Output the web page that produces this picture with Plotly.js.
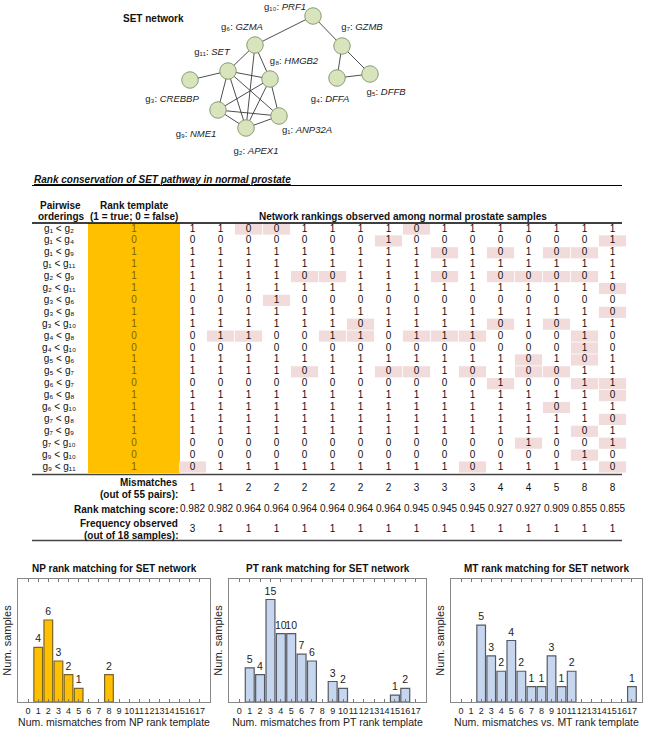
<!DOCTYPE html>
<html>
<head>
<meta charset="utf-8">
<script src="https://cdn.plot.ly/plotly-3.0.1.min.js"></script>
<style>html,body{margin:0;padding:0;background:#fff;}#chart{width:647px;height:732px;}</style>
</head>
<body>
<div id="chart"></div>
<script>
// ---------------- DATA ----------------
// Network
const geneIds   = [1, 2, 3, 4, 5, 6, 7, 8, 9, 10, 11];
const geneNames = ['ANP32A','APEX1','CREBBP','DFFA','DFFB','GZMA','GZMB','HMGB2','NME1','PRF1','SET'];
const edgeFrom  = [10, 10, 7, 7, 4, 6, 6, 6, 11, 11, 11, 11, 11, 8, 8, 8, 9, 9, 2];
const edgeTo    = [ 6,  7, 4, 5, 5, 11, 8, 2, 3, 8, 9, 2, 1, 9, 2, 1, 1, 2, 1];

// Table
const pairFirst    = [1,1,1,1,2,2,3,3,3,4,4,5,5,6,6,6,7,7,7,9,9];
const pairSecond   = [2,4,9,11,9,11,6,8,10,8,10,6,7,7,8,10,8,9,10,10,11];
const rankTemplate = [1,0,1,1,1,1,0,1,1,0,0,1,1,0,1,1,1,1,0,0,1];
const sampleRankings = [
  [1,1,0,0,1,1,1,1,0,1,1,1,1,1,1,1],
  [0,0,0,0,0,0,0,1,0,0,0,0,0,0,0,1],
  [1,1,1,1,1,1,1,1,1,0,1,0,1,0,0,1],
  [1,1,1,1,1,1,1,1,1,1,1,1,1,1,1,1],
  [1,1,1,1,0,0,1,1,1,0,1,0,0,0,0,1],
  [1,1,1,1,1,1,1,1,1,1,1,1,1,1,1,0],
  [0,0,0,1,0,0,0,0,0,0,0,0,0,0,0,0],
  [1,1,1,1,1,1,1,1,1,1,1,1,1,1,1,0],
  [1,1,1,1,1,1,0,1,1,1,1,0,1,0,1,1],
  [0,1,1,0,0,1,1,0,1,1,1,0,0,0,1,0],
  [0,0,0,0,0,0,0,0,0,0,0,0,0,0,1,0],
  [1,1,1,1,1,1,1,1,1,1,1,1,0,1,0,1],
  [1,1,1,1,0,1,1,0,0,1,0,1,0,0,1,1],
  [0,0,0,0,0,0,0,0,0,0,0,1,0,0,1,1],
  [1,1,1,1,1,1,1,1,1,1,1,1,1,1,1,0],
  [1,1,1,1,1,1,1,1,1,1,1,1,1,0,1,1],
  [1,1,1,1,1,1,1,1,1,1,1,1,1,1,1,0],
  [1,1,1,1,1,1,1,1,1,1,1,1,1,1,0,1],
  [0,0,0,0,0,0,0,0,0,0,0,0,1,0,0,1],
  [0,0,0,0,0,0,0,0,0,0,0,0,0,0,1,0],
  [0,1,1,1,1,1,1,1,1,1,0,1,1,1,1,0]
];
const mismatches        = [1,1,2,2,2,2,2,2,3,3,3,4,4,5,8,8];
const rankMatchingScore = [0.982,0.982,0.964,0.964,0.964,0.964,0.964,0.964,0.945,0.945,0.945,0.927,0.927,0.909,0.855,0.855];
const frequencyObserved = [3,1,1,1,1,1,1,1,1,1,1,1,1,1,1,1];

// Histograms
const mismatchBins = [0,1,2,3,4,5,6,7,8,9,10,11,12,13,14,15,16,17];
const npCounts = [0,4,6,3,2,1,0,0,2,0,0,0,0,0,0,0,0,0];
const ptCounts = [0,5,4,15,10,10,7,6,0,3,2,0,0,0,0,1,2,0];
const mtCounts = [0,0,5,3,2,4,2,1,1,3,1,2,0,0,0,0,0,1];

// ---------------- LAYOUT CONSTANTS ----------------
const W = 647, H = 732;
const FONT = 'Arial, "Liberation Sans", sans-serif';
const nodePos  = {1:[279,116],2:[246,128],3:[190,80],4:[337,78],5:[370,74],6:[255,45],7:[342,46],8:[270,79],9:[218,110],10:[313,16],11:[228,71]};
const labelPos = {1:[307,131],2:[256,152],3:[172,100],4:[330,100],5:[386,93],6:[242,28],7:[362,28],8:[294,62],9:[196,135],10:[285,8],11:[212,53]};
const colX = j => 192.5 + 28 * j;
const rowY = i => 229 + 11.9 * i;
const templX = 134, pairX = 59;
const yMis = 488, yScore = 509, yFreq = 529;
const SUBS = ['₀','₁','₂','₃','₄','₅','₆','₇','₈','₉'];
const sub = n => String(n).split('').map(d => SUBS[+d]).join('');

const traces = [];
const shapes = [];
const annotations = [];

// ---- network edges ----
const ex = [], ey = [];
edgeFrom.forEach((a, k) => {
  const b = edgeTo[k];
  ex.push(nodePos[a][0], nodePos[b][0], null);
  ey.push(nodePos[a][1], nodePos[b][1], null);
});
traces.push({type:'scatter', mode:'lines', x:ex, y:ey, xaxis:'x', yaxis:'y',
  line:{color:'#3a3a3a', width:0.9}, hoverinfo:'skip', cliponaxis:false});
// ---- network nodes ----
traces.push({type:'scatter', mode:'markers', xaxis:'x', yaxis:'y',
  x: geneIds.map(g => nodePos[g][0]), y: geneIds.map(g => nodePos[g][1]),
  marker:{size:16.5, color:'#d8e4bc', line:{color:'#8c9a78', width:1}}, hoverinfo:'skip', cliponaxis:false});
traces.push({type:'scatter', mode:'text', xaxis:'x', yaxis:'y',
  x: geneIds.map(g => labelPos[g][0]), y: geneIds.map(g => labelPos[g][1]),
  text: geneIds.map((g, k) => 'g' + sub(g) + ': <i>' + geneNames[k] + '</i>'),
  textposition:'middle center', textfont:{family:FONT, size:9.5, color:'#222'}, hoverinfo:'skip', cliponaxis:false});
annotations.push({xref:'x', yref:'y', x:121, y:18, xanchor:'left', yanchor:'middle', showarrow:false,
  text:'<b>SET network</b>', font:{family:FONT, size:10, color:'#111'}});

// ---- table background shapes ----
shapes.push({type:'rect', xref:'x', yref:'y', x0:88, x1:180, y0:223, y1:473, fillcolor:'#FFC000', line:{width:0}, layer:'below'});
sampleRankings.forEach((row, i) => row.forEach((v, j) => {
  if (v !== rankTemplate[i]) {
    shapes.push({type:'rect', xref:'x', yref:'y', x0:colX(j)-13.6, x1:colX(j)+13.6, y0:rowY(i)-5.6, y1:rowY(i)+5.6,
      fillcolor:'#F2DCDB', line:{width:0}, layer:'below'});
  }
}));
const hline = (y, w, c) => shapes.push({type:'line', xref:'x', yref:'y', x0:32, x1:622, y0:y, y1:y, line:{color:c, width:w}});
hline(185.5, 1, '#000');
hline(223, 1.5, '#000');
hline(474.5, 1.5, '#444');
hline(540.5, 1.5, '#444');

// ---- table text ----
const cellX = [], cellY = [], cellT = [];
sampleRankings.forEach((row, i) => row.forEach((v, j) => { cellX.push(colX(j)); cellY.push(rowY(i)); cellT.push(String(v)); }));
traces.push({type:'scatter', mode:'text', xaxis:'x', yaxis:'y', x:cellX, y:cellY, text:cellT,
  textposition:'middle center', textfont:{family:FONT, size:10, color:'#111'}, hoverinfo:'skip', cliponaxis:false});
traces.push({type:'scatter', mode:'text', xaxis:'x', yaxis:'y',
  x: rankTemplate.map(() => templX), y: rankTemplate.map((v, i) => rowY(i)), text: rankTemplate.map(String),
  textposition:'middle center', textfont:{family:FONT, size:10, color:'#7f6000'}, hoverinfo:'skip', cliponaxis:false});
traces.push({type:'scatter', mode:'text', xaxis:'x', yaxis:'y',
  x: pairFirst.map(() => pairX), y: pairFirst.map((v, i) => rowY(i)),
  text: pairFirst.map((a, i) => 'g' + sub(a) + ' &lt; g' + sub(pairSecond[i])),
  textposition:'middle center', textfont:{family:FONT, size:10, color:'#111'}, hoverinfo:'skip', cliponaxis:false});
// summary rows
traces.push({type:'scatter', mode:'text', xaxis:'x', yaxis:'y',
  x: mismatches.map((v, j) => colX(j)), y: mismatches.map(() => yMis), text: mismatches.map(String),
  textposition:'middle center', textfont:{family:FONT, size:10, color:'#111'}, hoverinfo:'skip', cliponaxis:false});
traces.push({type:'scatter', mode:'text', xaxis:'x', yaxis:'y',
  x: rankMatchingScore.map((v, j) => colX(j)), y: rankMatchingScore.map(() => yScore), text: rankMatchingScore.map(v => v.toFixed(3)),
  textposition:'middle center', textfont:{family:FONT, size:10, color:'#111'}, hoverinfo:'skip', cliponaxis:false});
traces.push({type:'scatter', mode:'text', xaxis:'x', yaxis:'y',
  x: frequencyObserved.map((v, j) => colX(j)), y: frequencyObserved.map(() => yFreq), text: frequencyObserved.map(String),
  textposition:'middle center', textfont:{family:FONT, size:10, color:'#111'}, hoverinfo:'skip', cliponaxis:false});

// ---- table headers / labels ----
const ann = (x, y, text, xanchor, extra) => annotations.push(Object.assign({xref:'x', yref:'y', x:x, y:y, xanchor:xanchor || 'center',
  yanchor:'middle', showarrow:false, text:text, font:{family:FONT, size:10, color:'#111'}}, extra || {}));
ann(32, 179, '<b><i><u>Rank conservation of SET pathway in normal prostate</u></i></b>', 'left');
ann(60, 205, '<b>Pairwise</b>');
ann(61, 216.5, '<b>orderings</b>');
ann(134, 205, '<b>Rank template</b>');
ann(134, 216.5, '<b>(1 = true; 0 = false)</b>');
ann(403, 216.5, '<b>Network rankings observed among normal prostate samples</b>');
ann(180, 482, '<b>Mismatches</b>', 'right');
ann(180, 494, '<b>(out of 55 pairs):</b>', 'right');
ann(180, yScore, '<b>Rank matching score:</b>', 'right');
ann(180, 523, '<b>Frequency observed</b>', 'right');
ann(180, 535, '<b>(out of 18 samples):</b>', 'right');

// ---- histograms ----
const panels = [
  {counts:npCounts, ax:'2', dom:[18,210], ymax:9,  fill:'#FFC000', edge:'#7a6528',
   title:'NP rank matching for SET network', xt:'Num. mismatches from NP rank template'},
  {counts:ptCounts, ax:'3', dom:[229,426], ymax:18, fill:'#C6D6EE', edge:'#555a62',
   title:'PT rank matching for SET network', xt:'Num. mismatches from PT rank template'},
  {counts:mtCounts, ax:'4', dom:[451,642], ymax:8,  fill:'#C6D6EE', edge:'#555a62',
   title:'MT rank matching for SET network', xt:'Num. mismatches vs. MT rank template'}
];
const yDom = [1 - 702 / H, 1 - 579 / H];
const layoutAxes = {};
panels.forEach(p => {
  const xs = [], ys = [];
  mismatchBins.forEach((b, k) => { if (p.counts[k] > 0) { xs.push(b); ys.push(p.counts[k]); } });
  traces.push({type:'bar', x:xs, y:ys, xaxis:'x' + p.ax, yaxis:'y' + p.ax, width:0.86,
    marker:{color:p.fill, line:{color:p.edge, width:1.2}},
    text: ys.map(String), textposition:'outside', constraintext:'none', cliponaxis:false,
    textfont:{family:FONT, size:10.5, color:'#222'}, hoverinfo:'skip'});
  layoutAxes['xaxis' + p.ax] = {domain:[p.dom[0] / W, p.dom[1] / W], anchor:'y' + p.ax, range:[-1, 18],
    tickmode:'array', tickvals:mismatchBins, ticktext:mismatchBins.map(String), tickangle:0,
    ticks:'inside', ticklen:3, tickcolor:'#777', showline:true, linecolor:'#888', linewidth:1, mirror:'ticks',
    showgrid:false, zeroline:false, tickfont:{family:FONT, size:9, color:'#222'}, automargin:false, fixedrange:true,
    title:{text:p.xt, font:{family:FONT, size:10.5, color:'#222'}, standoff:1}};
  layoutAxes['yaxis' + p.ax] = {domain:yDom, anchor:'x' + p.ax, range:[0, p.ymax],
    showticklabels:false, ticks:'', showline:true, linecolor:'#888', linewidth:1, mirror:true,
    showgrid:false, zeroline:false, automargin:false, fixedrange:true,
    title:{text:'Num. samples', font:{family:FONT, size:11, color:'#222'}, standoff:3}};
  annotations.push({xref:'paper', yref:'paper', x:(p.dom[0] + p.dom[1]) / 2 / W, y:1 - 568 / H,
    xanchor:'center', yanchor:'middle', showarrow:false, text:'<b>' + p.title + '</b>',
    font:{family:FONT, size:10, color:'#111'}});
});

const layout = Object.assign({
  width:W, height:H, margin:{l:0, r:0, t:0, b:0}, paper_bgcolor:'#fff', plot_bgcolor:'rgba(0,0,0,0)',
  showlegend:false, hovermode:false, font:{family:FONT, color:'#111'},
  xaxis:{domain:[0,1], range:[0,W], visible:false, fixedrange:true},
  yaxis:{domain:[0,1], range:[H,0], visible:false, fixedrange:true},
  shapes:shapes, annotations:annotations
}, layoutAxes);

Plotly.newPlot('chart', traces, layout, {displayModeBar:false, staticPlot:true});
</script>
</body>
</html>
